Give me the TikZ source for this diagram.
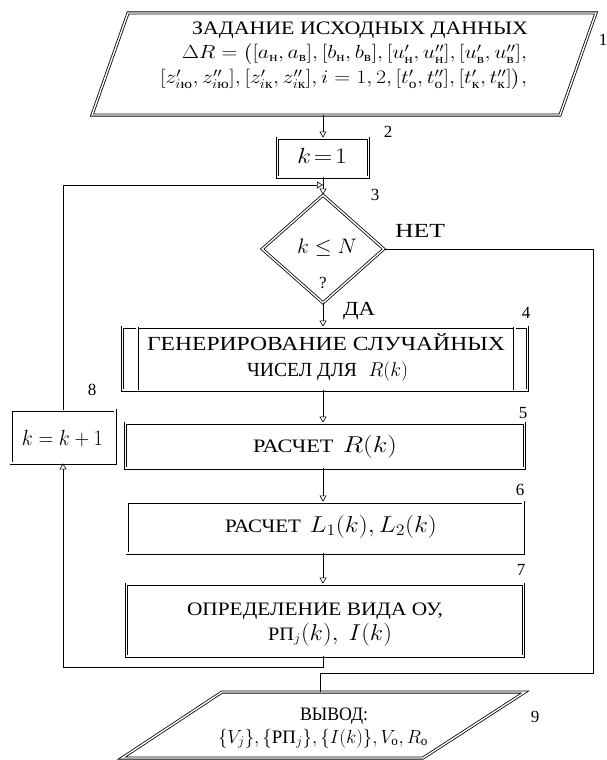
\RequirePackage{fix-cm}
\documentclass[tikz,border=0pt]{standalone}
\usepackage{amsmath}
\usepackage{graphicx}
\usepackage{fontspec}
\setmainfont{Liberation Serif}
\usetikzlibrary{shapes.geometric,arrows.meta}
\newsavebox\fwbox
\newcommand\fw[2]{\sbox\fwbox{#2}\scalebox{\fpeval{(#1)/(\the\wd\fwbox)}}[1]{\usebox\fwbox}}
\newcommand\mth[1]{{\fontsize{23}{23}\selectfont$#1$}}
\tikzset{
  dbl/.style={draw, line width=0.8pt, double=white, double distance=1.4pt},
  blk/.style={dbl, rectangle, inner sep=0pt},
  conn/.style={line width=0.6pt},
  arr/.style={conn, -{Triangle[open, length=6pt, width=7pt, line width=0.6pt]}},
  num/.style={font=\fontsize{17}{17}\selectfont, inner sep=0pt, anchor=base},
  lbl/.style={inner sep=0pt, anchor=base, font=\fontsize{19}{19}\selectfont},
}
\begin{document}
\begin{tikzpicture}[x=1pt,y=-1pt]
\useasboundingbox (0,0) rectangle (606,760);
% input parallelogram
\draw[dbl, line join=miter] (128,13) -- (596,13) -- (560,115) -- (92,115) -- cycle;
\coordinate (inpB) at (323,115);
\node[lbl] (t1) at (360,35) {\fw{336}{ЗАДАНИЕ ИСХОДНЫХ ДАННЫХ}};
\node[lbl] (t2) at (354.5,59) {\fw{345}{$\Delta R = \bigl([a_\text{н}, a_\text{в}], [b_\text{н}, b_\text{в}], [u'_\text{н}, u''_\text{н}], [u'_\text{в}, u''_\text{в}],$}};
\node[lbl] (t3) at (343.5,84) {\fw{367}{$[z'_{i\text{ю}}, z''_{i\text{ю}}], [z'_{i\text{к}}, z''_{i\text{к}}], i = 1, 2, [t'_\text{о}, t''_\text{о}], [t'_\text{к}, t''_\text{к}]\bigr),$}};

\node[blk, minimum width=91pt, minimum height=39pt] (k1) at (323,157.5) {};
\node[lbl, font=\fontsize{22}{22}\selectfont] (k1t) at (322,163) {\fw{50}{$k\!=\!1$}};

\node[dbl, diamond, minimum width=122pt, minimum height=108pt, inner sep=0pt] (d) at (323,249) {};
\node[lbl, font=\fontsize{21}{21}\selectfont] (dt) at (327,253) {\fw{60}{$k \le N$}};
\node[lbl, font=\fontsize{17}{17}\selectfont] (dq) at (323,288) {?};

\node[blk, minimum width=405pt, minimum height=63pt] (b4) at (325,358.5) {};
\node[lbl, font=\fontsize{20}{20}\selectfont] (b4a) at (326,350) {\fw{358}{ГЕНЕРИРОВАНИЕ СЛУЧАЙНЫХ}};
\node[lbl, font=\fontsize{20}{20}\selectfont] (b4b) at (327.5,376) {\fw{161}{ЧИСЕЛ ДЛЯ\,\, $R(k)$}};
\draw[dbl] ([xshift=15pt]b4.north west) -- ([xshift=15pt]b4.south west);
\draw[dbl] ([xshift=-13pt]b4.north east) -- ([xshift=-13pt]b4.south east);

\node[blk, minimum width=399pt, minimum height=45pt] (b5) at (325,445.5) {};
\node[lbl] (b5t) at (325,452) {\fw{144}{РАСЧЕТ\, \mth{R(k)}}};

\node[blk, minimum width=396pt, minimum height=51pt] (b6) at (325,527.5) {};
\node[lbl] (b6t) at (331,532) {\fw{212}{РАСЧЕТ\, \mth{L_1(k), L_2(k)}}};

\node[blk, minimum width=397pt, minimum height=72pt] (b7) at (325,620) {};
\node[lbl] (b7a) at (315,615) {\fw{256}{ОПРЕДЕЛЕНИЕ ВИДА ОУ,}};
\node[lbl] (b7b) at (330,640) {\fw{124}{РП$_j$\mth{(k),\ I(k)}}};

\node[blk, minimum width=104pt, minimum height=53pt] (kk) at (63,436.5) {};
\node[lbl, font=\fontsize{22}{22}\selectfont] (kkt) at (62.5,445) {\fw{81}{$k = k+1$}};

% output parallelogram
\draw[dbl, line join=miter] (222,692) -- (525,692) -- (423,758) -- (122,758) -- cycle;
\coordinate (outT) at (320,692);
\node[lbl] (o1) at (334,720) {\fw{68}{ВЫВОД:}};
\node[lbl] (o2) at (323,743) {\fw{210}{$\{V_j\}, \{\text{РП}_j\}, \{I(k)\}, V_\text{о}, R_\text{о}$}};

% labels
\node[num] (n1) at (603,46) {1};
\node[num] (n2) at (388,137) {2};
\node[num] (n3) at (375,200) {3};
\node[num] (n4) at (526,318) {4};
\node[num] (n5) at (523,418) {5};
\node[num] (n6) at (520,495) {6};
\node[num] (n7) at (521,575) {7};
\node[num] (n8) at (92,395) {8};
\node[num] (n9) at (535,722) {9};
\node[lbl, font=\fontsize{20}{20}\selectfont] (net) at (420,237) {\fw{50}{НЕТ}};
\node[lbl, font=\fontsize{20}{20}\selectfont] (da) at (359,315) {\fw{32}{ДА}};

% connectors
\coordinate (join) at (323,185);
\coordinate (rc) at (593,673);
\draw[arr] (k1.north |- inpB) -- (k1.north);
\draw[arr] (k1.south) -- (d.north);
\draw[arr] (kk.north) |- (join);
\draw[arr] (d.south) -- (d.south |- b4.north);
\draw[arr] (b4.south -| d.south) -- (d.south |- b5.north);
\draw[arr] (b5.south -| d.south) -- (d.south |- b6.north);
\draw[arr] (b6.south -| d.south) -- (d.south |- b7.north);
\draw[arr] (b7.south -| d.south) -- ++(0,11) -| (kk.south);
\draw[conn] (d.east) -| (rc) -| (outT);
\end{tikzpicture}
\end{document}
